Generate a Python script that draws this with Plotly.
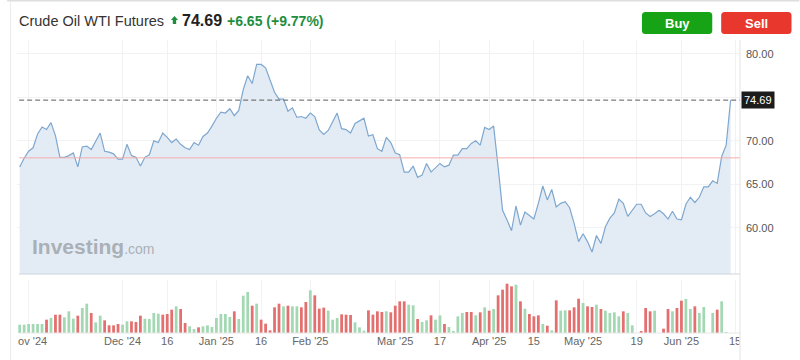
import plotly.graph_objects as go

# ---------------- data ----------------
price = [
    67.0, 68.0, 68.8, 69.2, 70.8, 71.6, 71.3, 72.1, 70.6, 68.1,
    68.1, 68.3, 68.6, 67.0, 69.3, 69.4, 69.0, 70.0, 70.9, 68.8,
    68.7, 68.5, 67.9, 67.9, 69.6, 68.3, 68.1, 67.1, 68.1, 68.4,
    70.0, 69.8, 70.9, 70.4, 69.8, 70.2, 69.6, 69.2, 69.0, 69.8,
    69.5, 70.5, 70.9, 71.7, 72.6, 73.3, 73.2, 73.7, 72.9, 73.5,
    75.9, 77.5, 76.6, 78.8, 78.8,
    78.4, 77.0, 75.6, 74.8, 74.8, 73.4, 73.8, 72.7, 72.8, 72.6,
    73.2, 72.8, 71.25, 70.75, 71.2, 72.2, 73.2,
    71.4, 71.3, 70.9, 72.0, 72.3, 72.6, 70.55, 70.7, 69.1, 68.8,
    70.4, 69.8, 68.6, 68.4, 66.4, 66.4, 67.1, 65.8, 66.05, 67.4,
    66.4, 66.9, 67.4, 67.0, 67.2, 68.35, 68.35, 69.1, 69.1, 69.7,
    70.0, 69.5, 71.55, 71.3, 71.7, 67.0, 62.0, 60.9, 59.65, 62.5,
    60.3, 61.8, 61.4, 61.0, 62.8, 64.8, 63.2, 64.4, 62.4, 62.8,
    63.0, 62.3, 60.5, 58.4, 59.3, 58.4, 57.2, 59.1, 58.2, 60.1,
    61.1, 61.7, 63.3, 62.8, 61.3, 62.0, 62.7, 62.7, 61.7, 61.3,
    61.6, 62.0, 61.6, 61.0, 61.9, 61.0, 60.9, 62.7, 63.5, 62.9,
    63.5, 64.7, 64.7, 65.4, 65.1, 68.2, 69.5, 74.69,
]

volume = [
    25, 25, 27, 27, 27, 27, 40, 45, 55, 55,
    47, 65, 43, 52, 75, 88, 60, 32, 52, 38,
    23, 23, 27, 25, 35, 35, 33, 52, 43, 42,
    60, 58, 55, 57, 70, 80, 72, 30, 20, 12,
    17, 20, 23, 18, 45, 57, 57, 48, 65, 42,
    112, 123, 82, 88, 40, 28, 8, 77, 88, 80,
    82, 80, 80, 77, 93, 128, 113, 73, 76, 67,
    40, 45, 56, 55, 54, 32, 17, 7, 68, 55,
    65, 63, 65, 62, 82, 95, 95, 85, 83, 42,
    33, 38, 53, 40, 53, 27, 18, 5, 50, 60,
    63, 63, 53, 62, 77, 67, 72, 113, 130, 148,
    140, 145, 95, 73, 57, 50, 53, 27, 22, 8,
    98, 67, 68, 68, 77, 103, 90, 80, 78, 85,
    72, 67, 60, 62, 50, 65, 60, 23, 0, 5,
    75, 65, 67, 0, 13, 72, 65, 75, 97, 102,
    72, 80, 60, 78, 0, 60, 70, 95, 2,
]

vol_up = [
    1, 1, 1, 1, 1, 1, 0, 1, 0, 0,
    1, 1, 1, 0, 1, 1, 0, 1, 1, 0,
    0, 0, 0, 1, 1, 0, 0, 0, 1, 1,
    1, 1, 0, 0, 0, 1, 0, 0, 1, 1,
    0, 1, 1, 1, 1, 1, 1, 1, 0, 1,
    1, 1, 0, 1, 0, 0, 0, 0, 0, 1,
    0, 1, 1, 0, 0, 1, 0, 0, 0, 1,
    1, 1, 0, 0, 0, 1, 1, 1, 0, 0,
    0, 0, 1, 0, 0, 0, 0, 1, 1, 0,
    1, 1, 0, 1, 1, 0, 1, 1, 1, 1,
    0, 0, 1, 0, 1, 0, 1, 0, 0, 0,
    0, 1, 0, 1, 0, 0, 0, 1, 0, 1,
    0, 1, 1, 0, 0, 0, 1, 0, 0, 1,
    0, 1, 1, 1, 1, 0, 1, 1, 1, 0,
    0, 0, 1, 1, 0, 0, 1, 0, 0, 1,
    1, 0, 1, 1, 1, 1, 0, 1, 1,
]

tick_pos = [2, 23, 33, 44, 54, 65, 84, 94, 105, 115, 126, 138, 148, 160]
tick_text = ["Nov '24", "Dec '24", "16", "Jan '25", "16", "Feb '25", "Mar '25",
             "17", "Apr '25", "15", "May '25", "19", "Jun '25", "15"]

y_ticks = [60, 65, 70, 75, 80]
y_tick_text = ["60.00", "65.00", "70.00", "", "80.00"]

title = "Crude Oil WTI Futures"
last_price = 74.69
prev_close = 68.04
change = 6.65
change_pct = 9.77

# ---------------- geometry helpers (pixel -> paper) ----------------
W, H = 800, 360
ML, MR, MT, MB = 10, 60, 40, 27
PW, PH = W - ML - MR, H - MT - MB


def PX(px):
    return (px - ML) / PW


def PY(py):
    return (H - MB - py) / PH


def rrect(x0, y0, x1, y1, r):
    return (f"M {PX(x0 + r)},{PY(y0)} L {PX(x1 - r)},{PY(y0)} "
            f"Q {PX(x1)},{PY(y0)} {PX(x1)},{PY(y0 + r)} L {PX(x1)},{PY(y1 - r)} "
            f"Q {PX(x1)},{PY(y1)} {PX(x1 - r)},{PY(y1)} L {PX(x0 + r)},{PY(y1)} "
            f"Q {PX(x0)},{PY(y1)} {PX(x0)},{PY(y1 - r)} L {PX(x0)},{PY(y0 + r)} "
            f"Q {PX(x0)},{PY(y0)} {PX(x0 + r)},{PY(y0)} Z")


def up_arrow(cx, top, bottom, half_w, stem_half, head_h):
    pts = [(cx, top), (cx + half_w, top + head_h), (cx + stem_half, top + head_h),
           (cx + stem_half, bottom), (cx - stem_half, bottom), (cx - stem_half, top + head_h),
           (cx - half_w, top + head_h)]
    return "M " + " L ".join(f"{PX(a)},{PY(b)}" for a, b in pts) + " Z"


FONT = "Arial, Liberation Sans, sans-serif"
GREEN_VOL = "#a3d8b3"
RED_VOL = "#e46f6f"

x_idx = list(range(len(price)))
vol_colors = [GREEN_VOL if u else RED_VOL for u in vol_up]

fig = go.Figure()
fig.add_trace(go.Scatter(
    x=x_idx, y=price, mode="lines",
    line=dict(color="#7ea7cf", width=1.2),
    fill="tozeroy", fillcolor="#e3ecf5",
    yaxis="y", hoverinfo="skip",
))
fig.add_trace(go.Bar(
    x=list(range(len(volume))), y=volume,
    marker=dict(color=vol_colors, line=dict(width=0)),
    width=0.62, yaxis="y2", hoverinfo="skip",
))

main_bottom = PY(274)
vol_top = PY(280)

fig.update_layout(
    width=W, height=H,
    margin=dict(l=ML, r=MR, t=MT, b=MB),
    paper_bgcolor="white", plot_bgcolor="white",
    showlegend=False,
    font=dict(family=FONT),
    xaxis=dict(
        range=[-0.6, 161.1], tickvals=tick_pos, ticktext=tick_text,
        showgrid=True, gridcolor="#f1f2f4", gridwidth=1,
        zeroline=False, showline=False, ticks="",
        tickfont=dict(size=11, color="#666666"), anchor="y2",
    ),
    yaxis=dict(
        domain=[main_bottom, 1], range=[54.67, 81.61], side="right",
        tickvals=y_ticks, ticktext=y_tick_text,
        showgrid=True, gridcolor="#f1f2f4", zeroline=False, showline=False,
        ticks="", ticklabelstandoff=5,
        tickfont=dict(size=11, color="#555555"), anchor="x",
    ),
    yaxis2=dict(
        domain=[0, vol_top], range=[0, 159], showticklabels=False,
        showgrid=False, zeroline=False, anchor="x",
    ),
)

shapes = [
    # previous close line
    dict(type="line", xref="paper", yref="y", x0=0.003, x1=1, y0=prev_close, y1=prev_close,
         line=dict(color="#f4abab", width=1)),
    # last price dashed line
    dict(type="line", xref="paper", yref="y", x0=0.003, x1=1, y0=last_price, y1=last_price,
         line=dict(color="#5a5a5a", width=1, dash="5px,3px")),
    # main panel bottom line
    dict(type="line", xref="paper", yref="paper", x0=0.003, x1=1, y0=main_bottom, y1=main_bottom,
         line=dict(color="#ccd5de", width=1)),
    # volume panel bottom line
    dict(type="line", xref="paper", yref="paper", x0=0.003, x1=1, y0=0, y1=0,
         line=dict(color="#e6e6e6", width=1)),
    # white covers for clipped x labels
    dict(type="rect", xref="paper", yref="paper", x0=PX(0), x1=PX(11), y0=PY(360), y1=PY(335),
         fillcolor="white", line=dict(width=0), layer="above"),
    dict(type="rect", xref="paper", yref="paper", x0=PX(739.5), x1=PX(800), y0=PY(360), y1=PY(335),
         fillcolor="white", line=dict(width=0), layer="above"),
    # borders
    dict(type="line", xref="paper", yref="paper", x0=1, x1=1, y0=PY(360), y1=PY(40),
         line=dict(color="#e3e3e3", width=1), layer="above"),
    dict(type="line", xref="paper", yref="paper", x0=PX(3.5), x1=PX(3.5), y0=PY(360), y1=PY(0),
         line=dict(color="#ececec", width=1), layer="above"),
    dict(type="line", xref="paper", yref="paper", x0=PX(0), x1=PX(800), y0=PY(0.8), y1=PY(0.8),
         line=dict(color="#dedede", width=1.6), layer="above"),
    # buttons
    dict(type="path", xref="paper", yref="paper", path=rrect(641, 12, 712, 34, 3.5),
         fillcolor="#17a316", line=dict(width=0), layer="above"),
    dict(type="path", xref="paper", yref="paper", path=rrect(721, 12, 792, 34, 3.5),
         fillcolor="#e8382d", line=dict(width=0), layer="above"),
    # up arrow next to the title
    dict(type="path", xref="paper", yref="paper", path=up_arrow(169, 16, 24, 3.6, 1.7, 4),
         fillcolor="#1e8e3e", line=dict(width=0), layer="above"),
]
fig.update_layout(shapes=shapes)

ann = [
    dict(text=title, x=PX(10), y=PY(20.5), xref="paper", yref="paper",
         xanchor="left", yanchor="middle", showarrow=False,
         font=dict(size=14.5, color="#333333", family=FONT)),
    dict(text=f"<b>{last_price:.2f}</b>", x=PX(175), y=PY(20.5), xref="paper", yref="paper",
         xanchor="left", yanchor="middle", showarrow=False,
         font=dict(size=16, color="#222222", family=FONT)),
    dict(text=f"<b>+{change:.2f} (+{change_pct:.2f}%)</b>", x=PX(220), y=PY(20.5),
         xref="paper", yref="paper", xanchor="left", yanchor="middle", showarrow=False,
         font=dict(size=14, color="#1e8e3e", family=FONT)),
    dict(text="<b>Buy</b>", x=PX(676.5), y=PY(23), xref="paper", yref="paper",
         xanchor="center", yanchor="middle", showarrow=False,
         font=dict(size=13, color="white", family=FONT)),
    dict(text="<b>Sell</b>", x=PX(756.5), y=PY(23), xref="paper", yref="paper",
         xanchor="center", yanchor="middle", showarrow=False,
         font=dict(size=13, color="white", family=FONT)),
    dict(text=f"{last_price:.2f}", x=1, xshift=1, y=last_price, xref="paper", yref="y",
         xanchor="left", yanchor="middle", showarrow=False,
         bgcolor="#1c1c1c", borderpad=2,
         font=dict(size=11, color="white", family=FONT)),
    dict(text="<b>Investing</b><span style='font-size:14px;font-weight:normal'>.com</span>",
         x=PX(23), y=PY(246), xref="paper", yref="paper",
         xanchor="left", yanchor="middle", showarrow=False,
         font=dict(size=21, color="#aab0b6", family=FONT)),
]
fig.update_layout(annotations=ann)

fig.write_html("out.html")
